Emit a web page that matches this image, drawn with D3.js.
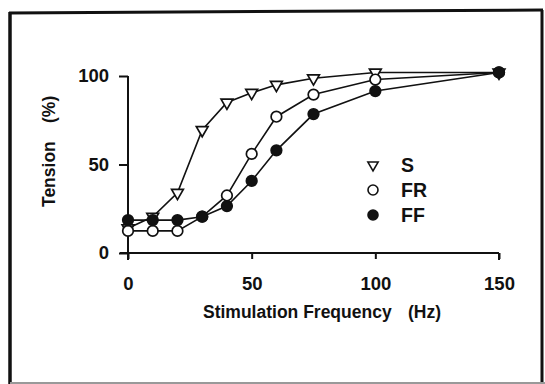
<!DOCTYPE html>
<html>
<head>
<meta charset="utf-8">
<script src="https://cdn.jsdelivr.net/npm/d3@7"></script>
<style>
  body { margin: 0; background: #fff; }
  text { font-family: "Liberation Sans", Arial, sans-serif; font-weight: bold; fill: #111; }
</style>
</head>
<body>
<div id="chart"></div>
<script>
// data
var freqs = [0, 10, 20, 30, 40, 50, 60, 75, 100, 150];
var tensionS  = [14, 20.5, 34, 69.5, 85, 90.5, 95, 98.7, 102, 102];
var tensionFR = [12.5, 12.5, 12.5, 20.5, 32.5, 56, 77, 89.5, 98, 102];
var tensionFF = [18.6, 18.6, 18.6, 20.5, 26.5, 40.7, 58, 78.5, 91.5, 102];
var xTicks = [0, 50, 100, 150];
var yTicks = [0, 50, 100];
var seriesNames = ["S", "FR", "FF"];

var width = 545, height = 384;

var svg = d3.select("#chart").append("svg")
    .attr("width", width)
    .attr("height", height);

// frame round the figure
svg.append("line").attr("x1", 10).attr("y1", 12).attr("x2", 10).attr("y2", 384)
    .attr("stroke", "#111").attr("stroke-width", 3.5);
svg.append("line").attr("x1", 9).attr("y1", 13).attr("x2", 543).attr("y2", 10)
    .attr("stroke", "#111").attr("stroke-width", 3);
svg.append("line").attr("x1", 542).attr("y1", 10).attr("x2", 542).attr("y2", 384)
    .attr("stroke", "#111").attr("stroke-width", 3);
svg.append("line").attr("x1", 10).attr("y1", 383).attr("x2", 545).attr("y2", 383)
    .attr("stroke", "#999").attr("stroke-width", 2);

// scales
var x = d3.scaleLinear().domain([0, 150]).range([128, 499]);
var y = d3.scaleLinear().domain([0, 100]).range([253, 76]);

// axes
var xAxis = d3.axisBottom(x).tickValues(xTicks).tickSize(6).tickPadding(18);
var yAxis = d3.axisLeft(y).tickValues(yTicks).tickSize(9).tickPadding(10);

var gx = svg.append("g").attr("transform", "translate(0," + y(0) + ")").call(xAxis);
var gy = svg.append("g").attr("transform", "translate(" + x(0) + ",0)").call(yAxis);

[gx, gy].forEach(function(g) {
  g.select(".domain").remove();
  g.selectAll(".tick line").attr("stroke", "#111").attr("stroke-width", 2);
  g.selectAll(".tick text").style("font-size", "18.5px").attr("fill", "#111");
});

// axis lines drawn by hand so the y axis pokes below the x axis a bit
svg.append("line").attr("x1", x(0) - 8).attr("x2", x(150)).attr("y1", y(0)).attr("y2", y(0))
    .attr("stroke", "#111").attr("stroke-width", 2);
svg.append("line").attr("x1", x(150)).attr("x2", x(150)).attr("y1", y(0)).attr("y2", y(0) + 7)
    .attr("stroke", "#111").attr("stroke-width", 2);
svg.append("line").attr("x1", x(0)).attr("x2", x(0)).attr("y1", y(100)).attr("y2", y(0) + 7)
    .attr("stroke", "#111").attr("stroke-width", 2);

// axis titles
svg.append("text").attr("x", 203).attr("y", 318).style("font-size", "17.5px")
    .text("Stimulation Frequency");
svg.append("text").attr("x", 408).attr("y", 318).style("font-size", "17.5px")
    .text("(Hz)");
svg.append("text").attr("transform", "translate(55,207) rotate(-90)")
    .style("font-size", "17.5px").text("Tension");
svg.append("text").attr("transform", "translate(55,123) rotate(-90)")
    .style("font-size", "17.5px").text("(%)");

// lines + markers
var line = d3.line()
    .x(function(d) { return x(d[0]); })
    .y(function(d) { return y(d[1]); });

var allSeries = [tensionS, tensionFR, tensionFF];
var triangle = d3.symbol().type(d3.symbolTriangle).size(60);

allSeries.forEach(function(vals, k) {
  var pts = freqs.map(function(f, i) { return [f, vals[i]]; });
  svg.append("path").datum(pts)
      .attr("d", line)
      .attr("fill", "none")
      .attr("stroke", "#111")
      .attr("stroke-width", 1.6);
});

allSeries.forEach(function(vals, k) {
  var pts = freqs.map(function(f, i) { return [f, vals[i]]; });
  var g = svg.append("g");
  if (k == 0) {
    g.selectAll("path").data(pts).enter().append("path")
        .attr("d", triangle)
        .attr("transform", function(d) { return "translate(" + x(d[0]) + "," + y(d[1]) + ") rotate(180)"; })
        .attr("fill", "#fff").attr("stroke", "#111").attr("stroke-width", 1.7);
  } else {
    g.selectAll("circle").data(pts).enter().append("circle")
        .attr("cx", function(d) { return x(d[0]); })
        .attr("cy", function(d) { return y(d[1]); })
        .attr("r", 5.3)
        .attr("fill", k == 1 ? "#fff" : "#111")
        .attr("stroke", "#111").attr("stroke-width", 1.7);
  }
});

// legend
var legend = svg.append("g");
seriesNames.forEach(function(name, k) {
  var ly = 165 + k * 25;
  if (k == 0) {
    legend.append("path").attr("d", d3.symbol().type(d3.symbolTriangle).size(45))
        .attr("transform", "translate(373," + ly + ") rotate(180)")
        .attr("fill", "#fff").attr("stroke", "#111").attr("stroke-width", 1.6);
  } else {
    legend.append("circle").attr("cx", 373).attr("cy", ly).attr("r", 5)
        .attr("fill", k == 1 ? "#fff" : "#111")
        .attr("stroke", "#111").attr("stroke-width", 1.6);
  }
  legend.append("text").attr("x", 401).attr("y", ly + 7)
      .style("font-size", "19.5px").text(name);
});
</script>
</body>
</html>
